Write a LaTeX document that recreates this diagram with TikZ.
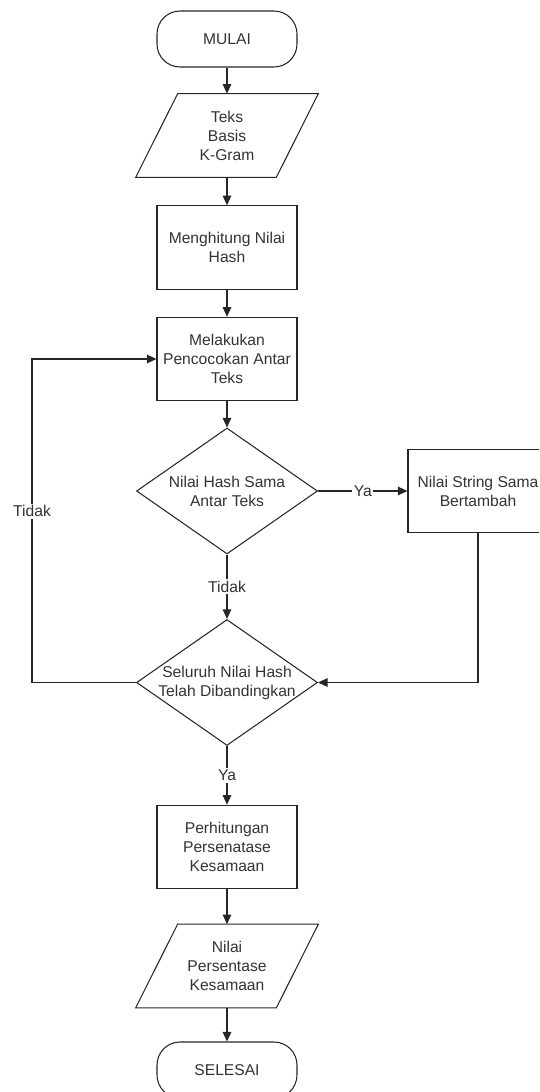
\documentclass[tikz,border=0pt]{standalone}
\usepackage{fontspec}
\setmainfont{Liberation Sans}
\usetikzlibrary{arrows.meta, positioning, shapes.geometric}

\begin{document}
\begin{tikzpicture}[x=0.02cm, y=-0.02cm,
    every node/.style={font=\fontsize{8.9}{10.8}\selectfont, text=black!80, align=center},
    process/.style={draw, rectangle, minimum width=2.8cm, minimum height=1.67cm, inner sep=1pt},
    terminal/.style={draw, rectangle, rounded corners=0.46cm, minimum width=2.8cm, minimum height=1.12cm},
    io/.style={rectangle, minimum width=2.8cm, minimum height=1.66cm, inner sep=1pt},
    decision/.style={draw, diamond, minimum width=3.62cm, minimum height=2.52cm, inner sep=0pt},
    line/.style={draw=black!85, line width=0.6pt},
    arrow/.style={line, -{Triangle[length=0.19cm, width=0.17cm]}},
    lbl/.style={fill=white, inner sep=1pt}]

  % Frame of the page
  \useasboundingbox (0,0) rectangle (539,1092);
  \clip (0,0) rectangle (539,1092);

  % Main column
  \node[terminal, line] (mulai) at (227,39) {MULAI};
  \node[io] (teks) at (227,135.5) {Teks\\Basis\\K-Gram};
  \node[process, line] (hash) at (227,247.5) {Menghitung Nilai\\Hash};
  \node[process, line] (cocok) at (227,359) {Melakukan\\Pencocokan Antar\\Teks};

  % First decision
  \node[decision, line] (samakah) at (227,491) {};
  \node (samakahtxt) at (samakah) {Nilai Hash Sama\\Antar Teks};
  \node[process, line] (tambah) at (478,491) {Nilai String Sama\\Bertambah};

  % Second decision
  \node[decision, line] (seluruh) at (227,682.5) {};
  \node (seluruhtxt) at (seluruh) {Seluruh Nilai Hash\\Telah Dibandingkan};

  % Lower part
  \node[process, line] (hitung) at (227,847) {Perhitungan\\Persenatase\\Kesamaan};
  \node[io] (hasil) at (227,966) {Nilai\\Persentase\\Kesamaan};
  \node[terminal, line] (selesai) at (227,1070) {SELESAI};

  % Slanted input/output outlines
  \foreach \n in {teks, hasil} {
    \draw[line] ([xshift=0.42cm]\n.north west) -- ([xshift=0.42cm]\n.north east)
      -- ([xshift=-0.42cm]\n.south east) -- ([xshift=-0.42cm]\n.south west) -- cycle;
  }

  \coordinate (kiri) at (32,682.5);

  % Connectors
  \draw[arrow] (mulai) -- (teks);
  \draw[arrow] (teks) -- (hash);
  \draw[arrow] (hash) -- (cocok);
  \draw[arrow] (cocok) -- (samakah);
  \draw[arrow] (samakah.east) -- node[lbl] {Ya} (tambah.west);
  \draw[arrow] (samakah.south) -- node[lbl] {Tidak} (seluruh.north);
  \draw[arrow] (tambah.south) |- (seluruh.east);
  \draw[arrow] (seluruh.west) -- (kiri) |- node[lbl, pos=0.265] {Tidak} (cocok.west);
  \draw[arrow] (seluruh.south) -- node[lbl] {Ya} (hitung.north);
  \draw[arrow] (hitung) -- (hasil);
  \draw[arrow] (hasil) -- (selesai);

\end{tikzpicture}
\end{document}
